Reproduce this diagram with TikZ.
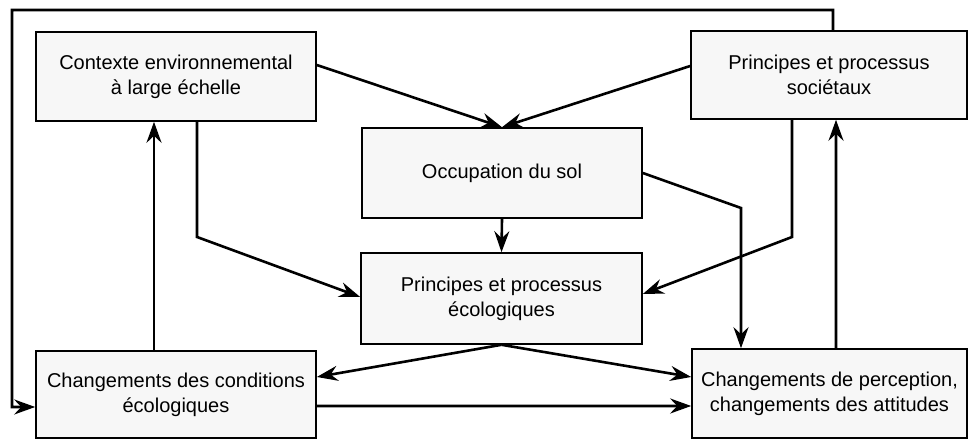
\documentclass[tikz,border=0pt]{standalone}
\usepackage{fontspec}
\setmainfont{Liberation Sans}
\usetikzlibrary{arrows.meta,calc}
\begin{document}
\begin{tikzpicture}[x=1bp,y=1bp,
  box/.style={draw=black,line width=1.6bp,fill=black!3,align=center,
    inner sep=0pt,font=\fontsize{20bp}{25bp}\selectfont},
  arr/.style={line width=2.6bp,-{Stealth[length=21bp,width=15bp,inset=7bp]}},
  ln/.style={line width=2.6bp}]
\useasboundingbox (0,0) rectangle (969,439);
\node[box,minimum width=280bp,minimum height=89bp] (A) at (176,362.5) {Contexte environnemental\\à large échelle};
\node[box,minimum width=280bp,minimum height=90bp] (O) at (502,266) {Occupation du sol};
\node[box,minimum width=276bp,minimum height=88bp] (S) at (829,364) {Principes et processus\\sociétaux};
\node[box,minimum width=281bp,minimum height=91bp] (E) at (501.5,140.5) {Principes et processus\\écologiques};
\node[box,minimum width=280bp,minimum height=87bp] (C) at (176,44.5) {Changements des conditions\\écologiques};
\node[box,minimum width=275bp,minimum height=89bp] (P) at (829.5,45.5) {Changements de perception,\\changements des attitudes};
\coordinate (a1) at (197,202);
\coordinate (s1) at (792,202);
\coordinate (o1) at (741,231);
\coordinate (t1) at (833,429);
\coordinate (t2) at (12,429);
\coordinate (t3) at (12,32);
% to Occupation
\draw[arr] ([yshift=11.5bp]A.east) -- (O.north);
\draw[arr] ([yshift=9bp]S.west) -- (O.north);
% Occupation to ecological
\draw[arr] (O.south) -- (E.north);
\draw[arr] ([xshift=21bp]A.south) -- (a1) -- ([yshift=1.5bp]E.west);
\draw[arr] ([xshift=-37bp]S.south) -- (s1) -- ([yshift=4.5bp]E.east);
\draw[arr] (O.east) -- (o1) -- (o1 |- P.north);
% vertical feedbacks
\draw[arr] ([xshift=-22bp]C.north) -- ([xshift=-22bp]A.south);
\draw[arr] ([xshift=6.5bp]P.north) -- ([xshift=7bp]S.south);
% ecological to changes
\draw[arr] (E.south) -- ([yshift=17.5bp]C.east);
\draw[arr] (E.south) -- ([yshift=16.5bp]P.west);
\draw[arr] ([yshift=-11.5bp]C.east) -- ([yshift=-12.5bp]P.west);
% outer loop
\draw[arr] ([xshift=4bp]S.north) -- (t1) -- (t2) -- (t3) -- ([yshift=-12.5bp]C.west);
\end{tikzpicture}
\end{document}
